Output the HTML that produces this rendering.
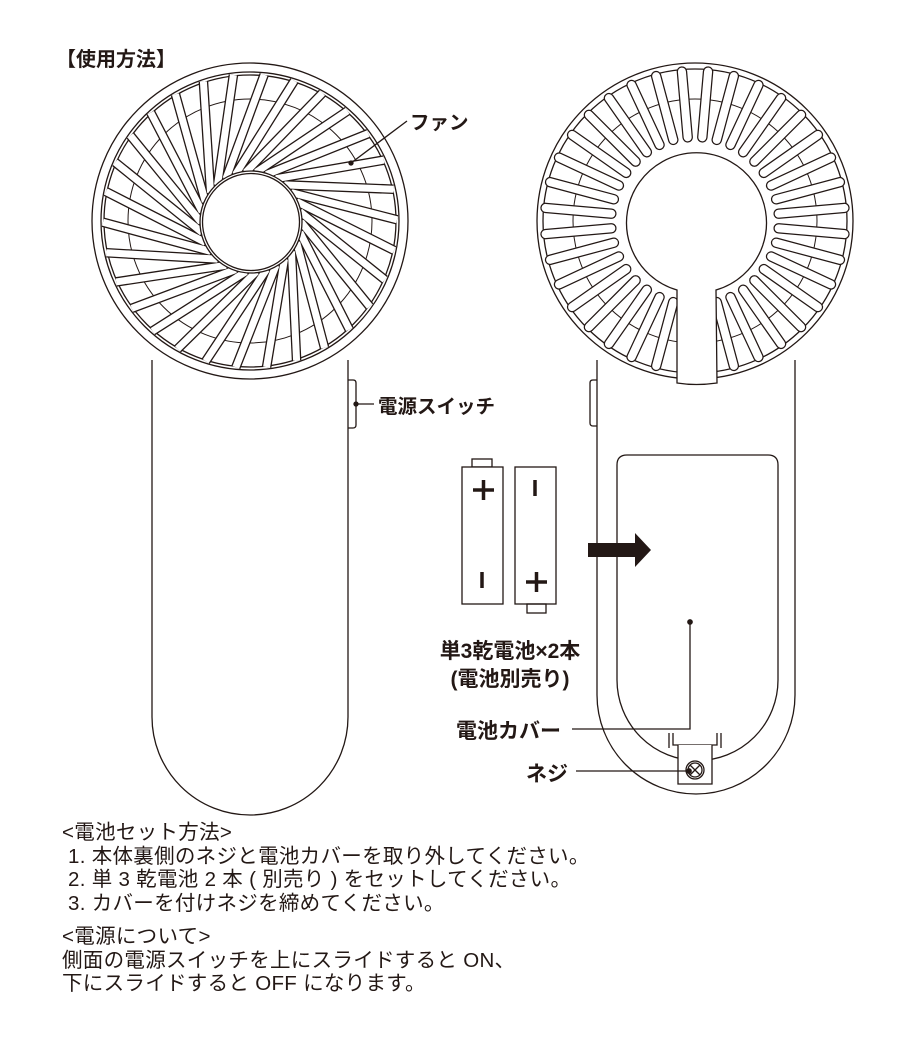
<!DOCTYPE html>
<html><head><meta charset="utf-8"><style>
html,body{margin:0;padding:0;background:#fff;}
body{width:920px;height:1040px;position:relative;overflow:hidden;font-family:"Liberation Sans","Noto Sans CJK JP",sans-serif;color:#231815;}
.t{position:absolute;white-space:nowrap;}
</style></head><body>
<svg id="s" width="920" height="1040" viewBox="0 0 920 1040" style="position:absolute;left:0;top:0" fill="none" stroke="#231815" stroke-width="1.3">
<path d="M152 360 V717 A98 98 0 0 0 348 717 V360" fill="#fff"/>
<path d="M348 380 h5 q3 0 3 3 v42 q0 3 -3 3 h-5"/>
<circle cx="250" cy="221" r="158" fill="#fff"/>
<circle cx="250" cy="221" r="149"/>
<circle cx="250" cy="221" r="146"/>
<circle cx="250" cy="221" r="122" stroke-width="1"/>
<g id="lb"></g>
<circle cx="251" cy="222" r="51" fill="#fff" stroke-width="1.3"/>
<circle cx="251" cy="222" r="48.5"/>
<path d="M597 360 V695 A99 99 0 0 0 795 695 V360" fill="#fff"/>
<path d="M597 380 h-4 q-3 0 -3 3 v40 q0 3 3 3 h4"/>
<path d="M617 465 q0 -10 10 -10 h141 q10 0 10 10 V680 A80 80 0 0 1 617 680 Z"/>
<circle cx="695" cy="221" r="158" fill="#fff"/>
<circle cx="695" cy="221" r="152"/>
<circle cx="695" cy="221" r="122" stroke-width="1"/>
<g id="rb"></g>
<path d="M677 290 A70 70 0 1 1 716 290 L717 383 Q696 386 677 383 Z" fill="#fff"/>
<path d="M669 748 V733 M673 733 V745 H717 V733 M721 733 V748" />
<path d="M678 745 V784 H712 V745" fill="#fff"/>
<circle cx="695" cy="770" r="9" fill="#fff"/>
<circle cx="695" cy="770" r="7"/>
<path d="M690 765 l10 10 M700 765 l-10 10"/>
<rect x="472" y="459" width="20" height="8"/>
<rect x="462" y="467" width="41" height="137" fill="#fff"/>
<rect x="515" y="467" width="41" height="137" fill="#fff"/>
<rect x="527" y="604" width="19" height="9"/>
<g stroke-width="3.5">
<path d="M473 490 h21 M483.5 480 v20"/>
<path d="M482 572 v16"/>
<path d="M535 480 v16"/>
<path d="M526 582 h21 M536.5 572 v20"/>
</g>
<path d="M588 543 H635 V533 L651 550 L635 567 V557 H588 Z" fill="#231815" stroke="none"/>
<path d="M351 163 L407 121"/>
<circle cx="351" cy="163" r="2" fill="#231815"/>
<path d="M356 404 H374"/>
<circle cx="356" cy="404" r="2" fill="#231815"/>
<path d="M572 729 H690 V622"/>
<circle cx="690" cy="622" r="2.2" fill="#231815"/>
<path d="M576 771 H689"/>
<circle cx="689" cy="771" r="2.2" fill="#231815"/>
</svg>
<div class="t" style="left:56px;top:43px;font-size:20px;font-weight:bold;">【使用方法】</div>
<div class="t" style="left:410px;top:106px;font-size:19.5px;font-weight:bold;">ファン</div>
<div class="t" style="left:378px;top:390px;font-size:19.5px;font-weight:bold;">電源スイッチ</div>
<div class="t" style="left:430px;top:638px;font-size:21px;font-weight:bold;text-align:center;width:160px;line-height:28px;">単3乾電池×2本<br>(電池別売り)</div>
<div class="t" style="left:456px;top:715px;font-size:21px;font-weight:bold;">電池カバー</div>
<div class="t" style="left:526px;top:758px;font-size:21px;font-weight:bold;">ネジ</div>
<div class="t" style="left:62px;top:821px;font-size:20.5px;line-height:23.5px;letter-spacing:0.3px;">&lt;電池セット方法&gt;<br>&nbsp;1. 本体裏側のネジと電池カバーを取り外してください。<br>&nbsp;2. 単 3 乾電池 2 本 ( 別売り ) をセットしてください。<br>&nbsp;3. カバーを付けネジを締めてください。</div>
<div class="t" style="left:62px;top:925px;font-size:20.5px;line-height:23.5px;letter-spacing:0.3px;">&lt;電源について&gt;<br>側面の電源スイッチを上にスライドすると ON、<br>下にスライドすると OFF になります。</div>
<script>
var NS="http://www.w3.org/2000/svg";
function ln(g,x1,y1,x2,y2,w,c,cap){var l=document.createElementNS(NS,"line");l.setAttribute("x1",x1);l.setAttribute("y1",y1);l.setAttribute("x2",x2);l.setAttribute("y2",y2);l.setAttribute("stroke",c);l.setAttribute("stroke-width",w);if(cap)l.setAttribute("stroke-linecap",cap);g.appendChild(l);}
var lb=document.getElementById("lb");
var N=30;
for(var p=0;p<2;p++)for(var i=0;i<N;i++){var a=i*2*Math.PI/N,b=a+0.62;
var x1=251+50*Math.cos(a),y1=222+50*Math.sin(a),x2=250+147*Math.cos(b),y2=221+147*Math.sin(b);
ln(lb,x1,y1,x2,y2,p?7:9.6,p?"#fff":"#231815","butt");}
var rb=document.getElementById("rb");
for(var p=0;p<2;p++)for(var i=0;i<36;i++){var d=i*10+5;if(Math.abs(d-90)<12)continue;var a=d*Math.PI/180;
ln(rb,695+84*Math.cos(a),221+84*Math.sin(a),695+150*Math.cos(a),221+150*Math.sin(a),p?8:10.5,p?"#fff":"#231815","round");}
</script>
</body></html>
